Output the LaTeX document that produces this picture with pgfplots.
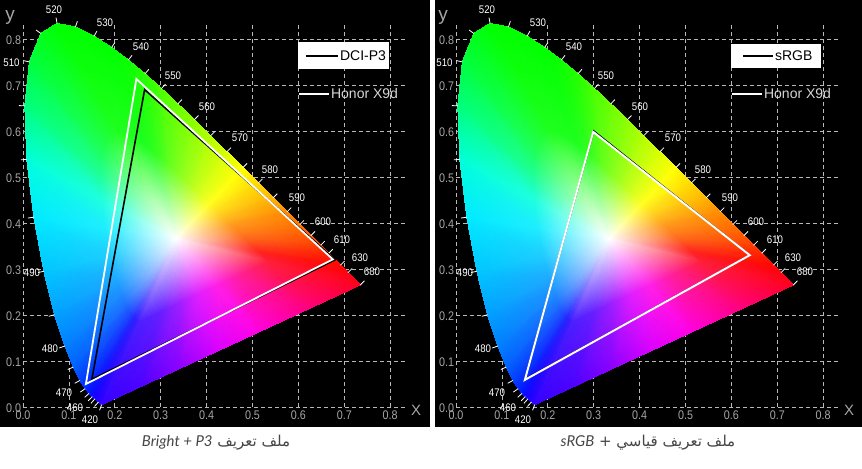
\begin{filecontents*}[overwrite]{cieconn.dat}
0 45 46
45 1 2
45 2 46
0 46 47
46 2 3
46 3 47
0 47 48
47 3 4
47 4 48
0 48 49
48 4 5
48 5 49
0 49 50
49 5 6
49 6 50
0 50 51
50 6 7
50 7 51
0 51 52
51 7 8
51 8 52
0 52 53
52 8 9
52 9 53
0 53 54
53 9 10
53 10 54
0 54 55
54 10 11
54 11 55
0 55 56
55 11 12
55 12 56
0 56 57
56 12 13
56 13 57
0 57 58
57 13 14
57 14 58
0 58 59
58 14 15
58 15 59
0 59 60
59 15 16
59 16 60
0 60 61
60 16 17
60 17 61
0 61 62
61 17 18
61 18 62
0 62 63
62 18 19
62 19 63
0 63 64
63 19 20
63 20 64
0 64 65
64 20 21
64 21 65
0 65 66
65 21 22
65 22 66
0 66 67
66 22 23
66 23 67
0 67 68
67 23 24
67 24 68
0 68 69
68 24 25
68 25 69
0 69 70
69 25 26
69 26 70
0 70 71
70 26 27
70 27 71
0 71 72
71 27 28
71 28 72
0 72 73
72 28 29
72 29 73
0 73 74
73 29 30
73 30 74
0 74 75
74 30 31
74 31 75
0 75 76
75 31 32
75 32 76
0 76 77
76 32 33
76 33 77
0 77 78
77 33 34
77 34 78
0 78 79
78 34 35
78 35 79
0 79 80
79 35 36
79 36 80
0 80 81
80 36 37
80 37 81
0 81 82
81 37 38
81 38 82
0 82 83
82 38 39
82 39 83
0 83 84
83 39 40
83 40 84
0 84 85
84 40 41
84 41 85
0 85 86
85 41 42
85 42 86
0 86 87
86 42 43
86 43 87
0 87 88
87 43 44
87 44 88
0 88 45
88 44 1
88 1 45
\end{filecontents*}
\documentclass[border=0pt]{standalone}
\usepackage{pgfplots}
\pgfplotsset{compat=1.18}
\usepackage{pgfplotstable}
\usepackage{fontspec}
\setmainfont{Liberation Sans}
\newfontfamily\arabicfont[Script=Arabic]{DejaVu Sans}
\newfontfamily\latofont{Lato}
\TeXXeTstate=1
\definecolor{gridc}{RGB}{185,185,185}
\definecolor{tickc}{RGB}{165,165,165}
\definecolor{honorc}{RGB}{215,215,215}
\definecolor{capc}{RGB}{70,70,70}

% spectral locus fill: vertex 0 = white point, 1..44 = locus + purple line, 45..88 = half-way ring
\pgfplotstableread{
x y c
0.335 0.365 rgb=1,1,1
0.1714 0.0051 rgb=0.2,0,1
0.1644 0.0109 rgb=0.15,0,1
0.1566 0.0177 rgb=0.1,0,1
0.1510 0.0227 rgb=0.06,0.02,1
0.1440 0.0297 rgb=0.02,0.06,1
0.1355 0.0399 rgb=0,0.15,1
0.1241 0.0578 rgb=0,0.25,1
0.1096 0.0868 rgb=0,0.38,1
0.0913 0.1327 rgb=0,0.5,1
0.0687 0.2007 rgb=0,0.63,1
0.0454 0.2950 rgb=0,0.78,1
0.0235 0.4127 rgb=0,0.92,1
0.0082 0.5384 rgb=0,1,0.85
0.0039 0.6548 rgb=0,1,0.5
0.0139 0.7502 rgb=0,1,0.25
0.0389 0.8120 rgb=0,1,0.1
0.0743 0.8338 rgb=0,1,0
0.1142 0.8262 rgb=0,1,0
0.1547 0.8059 rgb=0,1,0
0.1929 0.7816 rgb=0,1,0
0.2296 0.7543 rgb=0.05,1,0
0.2658 0.7243 rgb=0.15,1,0
0.3016 0.6923 rgb=0.3,1,0
0.3373 0.6589 rgb=0.42,1,0
0.3731 0.6245 rgb=0.55,1,0
0.4087 0.5896 rgb=0.7,1,0
0.4441 0.5547 rgb=0.85,1,0
0.4788 0.5202 rgb=1,1,0
0.5125 0.4866 rgb=1,0.85,0
0.5448 0.4544 rgb=1,0.7,0
0.5752 0.4242 rgb=1,0.55,0
0.6029 0.3965 rgb=1,0.45,0
0.6270 0.3725 rgb=1,0.35,0
0.6482 0.3514 rgb=1,0.25,0
0.6658 0.3340 rgb=1,0.15,0
0.6915 0.3083 rgb=1,0.03,0
0.7079 0.2920 rgb=1,0,0.05
0.7190 0.2809 rgb=1,0,0.08
0.7347 0.2653 rgb=1,0,0.12
0.6220 0.2133 rgb=1,0,0.5
0.5094 0.1612 rgb=1,0,0.9
0.4249 0.1222 rgb=0.85,0,1
0.3404 0.0832 rgb=0.55,0,1
0.2559 0.0441 rgb=0.3,0,1
0.2532 0.1851 rgb=0.296,0.12,1
0.2497 0.1880 rgb=0.252,0.12,1
0.2458 0.1914 rgb=0.208,0.12,1
0.2430 0.1939 rgb=0.173,0.138,1
0.2395 0.1974 rgb=0.138,0.173,1
0.2353 0.2025 rgb=0.12,0.252,1
0.2296 0.2114 rgb=0.12,0.34,1
0.2223 0.2259 rgb=0.12,0.454,1
0.2132 0.2489 rgb=0.12,0.56,1
0.2019 0.2829 rgb=0.12,0.674,1
0.1902 0.3300 rgb=0.12,0.806,1
0.1793 0.3889 rgb=0.12,0.93,1
0.1716 0.4517 rgb=0.12,1,0.868
0.1695 0.5099 rgb=0.12,1,0.56
0.1745 0.5576 rgb=0.12,1,0.34
0.1870 0.5885 rgb=0.12,1,0.208
0.2047 0.5994 rgb=0.12,1,0.12
0.2246 0.5956 rgb=0.12,1,0.12
0.2449 0.5855 rgb=0.12,1,0.12
0.2640 0.5733 rgb=0.12,1,0.12
0.2823 0.5597 rgb=0.164,1,0.12
0.3004 0.5447 rgb=0.252,1,0.12
0.3183 0.5287 rgb=0.384,1,0.12
0.3362 0.5120 rgb=0.49,1,0.12
0.3541 0.4948 rgb=0.604,1,0.12
0.3719 0.4773 rgb=0.736,1,0.12
0.3896 0.4599 rgb=0.868,1,0.12
0.4069 0.4426 rgb=1,1,0.12
0.4238 0.4258 rgb=1,0.868,0.12
0.4399 0.4097 rgb=1,0.736,0.12
0.4551 0.3946 rgb=1,0.604,0.12
0.4690 0.3808 rgb=1,0.516,0.12
0.4810 0.3688 rgb=1,0.428,0.12
0.4916 0.3582 rgb=1,0.34,0.12
0.5004 0.3495 rgb=1,0.252,0.12
0.5133 0.3367 rgb=1,0.146,0.12
0.5215 0.3285 rgb=1,0.12,0.164
0.5270 0.3230 rgb=1,0.12,0.19
0.5349 0.3152 rgb=1,0.12,0.226
0.4785 0.2892 rgb=1,0.12,0.56
0.4222 0.2631 rgb=1,0.12,0.912
0.3800 0.2436 rgb=0.868,0.12,1
0.3377 0.2241 rgb=0.604,0.12,1
0.2955 0.2046 rgb=0.384,0.12,1
}\cievert

% wavelength tick marks on the locus (start point and outward vector)
\pgfplotstableread{
x y u v
0.1714 0.0051 -0.0046 -0.0122
0.1644 0.0109 -0.0087 -0.0097
0.1566 0.0177 -0.0086 -0.0098
0.1510 0.0227 -0.0090 -0.0094
0.1440 0.0297 -0.0096 -0.0087
0.1355 0.0399 -0.0106 -0.0075
0.1241 0.0578 -0.0114 -0.0063
0.1096 0.0868 -0.0119 -0.0052
0.0913 0.1327 -0.0122 -0.0044
0.0687 0.2007 -0.0125 -0.0035
0.0454 0.2950 -0.0127 -0.0027
0.0235 0.4127 -0.0129 -0.0020
0.0082 0.5384 -0.0130 -0.0011
0.0039 0.6548 -0.0130 0.0004
0.0139 0.7502 -0.0127 0.0028
0.0389 0.8120 -0.0105 0.0076
0.0743 0.8338 -0.0024 0.0128
0.1142 0.8262 0.0043 0.0123
0.1547 0.8059 0.0064 0.0113
0.1929 0.7816 0.0074 0.0107
0.2296 0.7543 0.0080 0.0102
0.2658 0.7243 0.0085 0.0099
0.3016 0.6923 0.0088 0.0096
0.3373 0.6589 0.0089 0.0094
0.3731 0.6245 0.0092 0.0092
0.4087 0.5896 0.0092 0.0092
0.4441 0.5547 0.0092 0.0092
0.4788 0.5202 0.0092 0.0092
0.5125 0.4866 0.0092 0.0092
0.5448 0.4544 0.0092 0.0092
0.5752 0.4242 0.0092 0.0092
0.6029 0.3965 0.0092 0.0092
0.6270 0.3725 0.0092 0.0092
0.6482 0.3514 0.0092 0.0092
0.6658 0.3340 0.0092 0.0092
0.6915 0.3083 0.0092 0.0092
0.7079 0.2920 0.0092 0.0092
0.7347 0.2653 0.0092 0.0092
}\cieticks

\newcommand\ticfont{\fontsize{12.5bp}{14bp}\selectfont}
\newcommand\legfont{\fontsize{14bp}{16bp}\selectfont}
\tikzset{wl/.style={text=white, font=\fontsize{11bp}{12bp}\selectfont, xscale=0.88, inner sep=0pt}}

\pgfplotsset{
  cie/.style={
    anchor=south west, x=459bp, y=460bp,
    xmin=0, xmax=0.835, ymin=0, ymax=0.83, clip=false,
    axis line style={draw=none}, major tick length=0pt,
    xtick={0,0.1,0.2,0.3,0.4,0.5,0.6,0.7,0.8},
    ytick={0,0.1,0.2,0.3,0.4,0.5,0.6,0.7,0.8},
    xticklabels={0.0,0.1,0.2,0.3,0.4,0.5,0.6,0.7,0.8},
    yticklabels={0.0,0.1,0.2,0.3,0.4,0.5,0.6,0.7,0.8},
    grid=major, grid style={gridc, dash pattern=on 4bp off 3bp, line width=0.8bp},
    tick label style={text=tickc, font=\ticfont, xscale=0.86, inner sep=0pt},
    xticklabel style={anchor=center, yshift=-8.5bp},
    yticklabel style={anchor=east, xshift=-2bp, yshift=-1.5bp},
    xlabel={X}, ylabel={y},
    every axis x label/.style={at={(axis description cs:1.0254,-0.0078)}, anchor=center, text=tickc, font=\fontsize{15bp}{16bp}\selectfont},
    every axis y label/.style={at={(axis description cs:-0.0339,1.019)}, anchor=center, text=tickc, font=\fontsize{19bp}{19bp}\selectfont},
    legend cell align=left,
  },
  cieover/.style={
    anchor=south west, x=459bp, y=460bp,
    xmin=0, xmax=0.835, ymin=0, ymax=0.83, clip=false, hide axis,
    legend cell align=left,
  },
}

\newcommand\horseshoe{%
  \addplot[patch, shader=interp, mesh/color input=explicit, patch table=cieconn.dat, forget plot] table[meta=c] {\cievert};
  \addplot[white, line width=0.8bp, mark=none, forget plot, quiver={u=\thisrow{u}, v=\thisrow{v}}] table {\cieticks};
  \node[wl] at (axis cs:0.0675,0.863) {520};
  \node[wl] at (axis cs:0.1786,0.835) {530};
  \node[wl] at (axis cs:0.2571,0.783) {540};
  \node[wl] at (axis cs:0.3268,0.7196) {550};
  \node[wl] at (axis cs:0.4009,0.652) {560};
  \node[wl] at (axis cs:0.4728,0.585) {570};
  \node[wl] at (axis cs:0.5381,0.515) {580};
  \node[wl] at (axis cs:0.5969,0.4543) {590};
  \node[wl] at (axis cs:0.6536,0.402) {600};
  \node[wl] at (axis cs:0.695,0.363) {610};
  \node[wl] at (axis cs:0.7342,0.324) {630};
  \node[wl] at (axis cs:0.7603,0.2935) {680};
  \node[wl] at (axis cs:-0.025,0.748) {510};
  \node[wl] at (axis cs:0.0196,0.291) {490};
  \node[wl] at (axis cs:0.0588,0.126) {480};
  \node[wl] at (axis cs:0.0893,0.0304) {470};
  \node[wl] at (axis cs:0.1133,-0.002) {460};
  \node[wl] at (axis cs:0.146,-0.028) {420};
}

\begin{document}
\begin{tikzpicture}
\fill[white] (0bp,0bp) rectangle (862bp,-469bp);
\fill[black] (0bp,0bp) rectangle (430bp,-427bp);
\fill[black] (435bp,0bp) rectangle (862bp,-427bp);

% ---------- left panel ----------
\begin{axis}[cie, at={(23bp,-407bp)},
  legend style={at={(axis description cs:0.7358,0.919)}, anchor=west, draw=none, fill=none,
    inner sep=0pt, outer sep=0pt, font=\legfont, text=black, nodes={inner sep=0pt},
    /tikz/every odd column/.append style={column sep=1.5bp}}]
\horseshoe
\addplot[black, line width=1.6bp, mark=none,
  legend image code/.code={\fill[white,overlay] (-7bp,-12bp) rectangle (82bp,13bp);
    \draw[black, line width=1.6bp] (0bp,0bp) -- (32bp,0bp);}]
  coordinates {(0.680,0.320) (0.265,0.690) (0.150,0.060) (0.680,0.320) (0.265,0.690)};
\addlegendentry{DCI-P3}
\end{axis}
\begin{axis}[cieover, at={(23bp,-407bp)},
  legend style={at={(axis description cs:0.7175,0.8198)}, anchor=west, draw=none, fill=none,
    inner sep=0pt, outer sep=0pt, font=\legfont, text=honorc, nodes={inner sep=0pt},
    /tikz/every odd column/.append style={column sep=1.5bp}}]
\addplot[white, line width=1.8bp, mark=none,
  legend image code/.code={\draw[white, line width=1.6bp] (0bp,0bp) -- (30bp,0bp);}]
  coordinates {(0.675,0.321) (0.247,0.713) (0.137,0.050) (0.675,0.321) (0.247,0.713)};
\addlegendentry{Honor X9d}
\end{axis}

% ---------- right panel ----------
\begin{axis}[cie, at={(456bp,-407bp)},
  legend style={at={(axis description cs:0.7462,0.919)}, anchor=west, draw=none, fill=none,
    inner sep=0pt, outer sep=0pt, font=\legfont, text=black, nodes={inner sep=0pt},
    /tikz/every odd column/.append style={column sep=1.5bp}}]
\horseshoe
\addplot[black, line width=1.6bp, mark=none,
  legend image code/.code={\fill[white,overlay] (-11bp,-11bp) rectangle (77bp,11bp);
    \draw[black, line width=1.6bp] (0bp,0bp) -- (30bp,0bp);}]
  coordinates {(0.640,0.330) (0.300,0.600) (0.150,0.060) (0.640,0.330) (0.300,0.600)};
\addlegendentry{sRGB}
\end{axis}
\begin{axis}[cieover, at={(456bp,-407bp)},
  legend style={at={(axis description cs:0.7175,0.8198)}, anchor=west, draw=none, fill=none,
    inner sep=0pt, outer sep=0pt, font=\legfont, text=honorc, nodes={inner sep=0pt},
    /tikz/every odd column/.append style={column sep=1.5bp}}]
\addplot[white, line width=2bp, mark=none,
  legend image code/.code={\draw[white, line width=1.6bp] (0bp,0bp) -- (30bp,0bp);}]
  coordinates {(0.640,0.330) (0.299,0.598) (0.150,0.059) (0.640,0.330) (0.299,0.598)};
\addlegendentry{Honor X9d}
\end{axis}

% ---------- captions ----------
\node[text=capc, anchor=center] at (216bp,-443bp)
  {\arabicfont\fontsize{15bp}{17bp}\selectfont\beginR ملف تعريف \beginL{\latofont\itshape Bright + P3}\endL\endR};
\node[text=capc, anchor=center] at (648bp,-443bp)
  {\arabicfont\fontsize{15bp}{17bp}\selectfont\beginR ملف تعريف قياسي + \beginL{\latofont\itshape sRGB}\endL\endR};

\pgfresetboundingbox
\useasboundingbox (0bp,0bp) rectangle (862bp,-469bp);
\end{tikzpicture}
\end{document}
